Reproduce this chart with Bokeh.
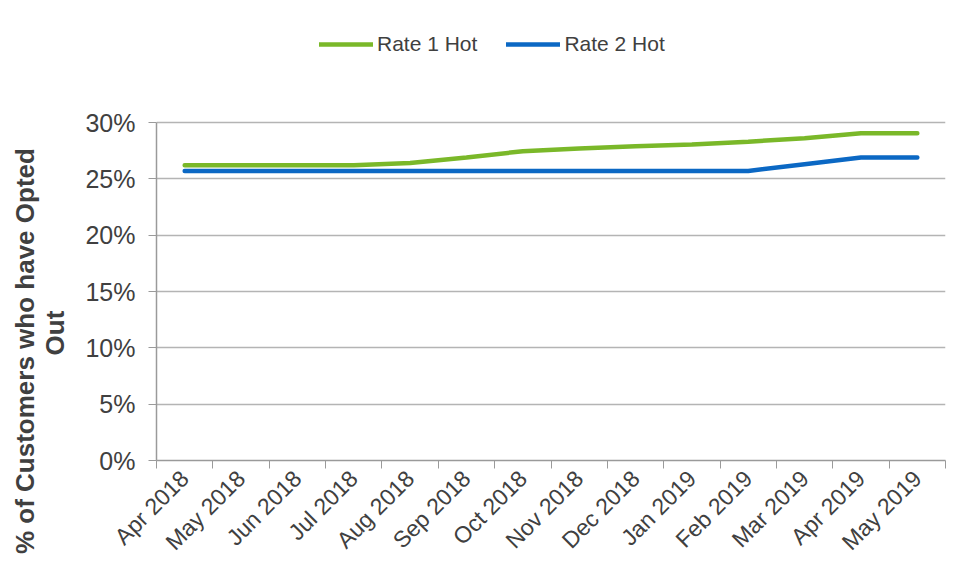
import math
from bokeh.plotting import figure
from bokeh.models import FixedTicker, Range1d, Legend, LegendItem
from bokeh.embed import file_html
from bokeh.resources import INLINE

months = ["Apr 2018", "May 2018", "Jun 2018", "Jul 2018", "Aug 2018", "Sep 2018",
          "Oct 2018", "Nov 2018", "Dec 2018", "Jan 2019", "Feb 2019", "Mar 2019",
          "Apr 2019", "May 2019"]
rate1_hot = [26.2, 26.2, 26.2, 26.2, 26.4, 26.9, 27.45, 27.7, 27.9, 28.05, 28.3, 28.6, 29.05, 29.05]
rate2_hot = [25.7, 25.7, 25.7, 25.7, 25.7, 25.7, 25.7, 25.7, 25.7, 25.7, 25.7, 26.3, 26.9, 26.9]
y_ticks = [0, 5, 10, 15, 20, 25, 30]
y_title_lines = ["% of Customers who have Opted", "Out"]

FONT = "Liberation Sans"
NBSP = "\u00a0"
x_pos = [i + 0.5 for i in range(len(months))]

# plot area: 30% line at 338 px above the x axis; the frame is extended upwards
# (above 30%) so that the legend can sit inside it at the top of the chart
TOP_BORDER = 10
AXIS_PX = 338
FRAME_PX = 576 - 116 - TOP_BORDER
y_max = max(y_ticks) * FRAME_PX / AXIS_PX

p = figure(width=955, height=576, output_backend="svg", toolbar_location=None,
           x_range=Range1d(0, len(months)), y_range=Range1d(0, y_max),
           min_border_left=156, min_border_right=10, min_border_top=TOP_BORDER,
           min_border_bottom=116)
p.outline_line_color = None
p.background_fill_color = "white"
p.border_fill_color = "white"

r1 = p.line(x_pos, rate1_hot, line_color="#7AB829", line_width=4.5, line_cap="round")
r2 = p.line(x_pos, rate2_hot, line_color="#0B68C4", line_width=4.5, line_cap="round")

# x axis
xa = p.xaxis[0]
xa.ticker = FixedTicker(ticks=x_pos, minor_ticks=list(range(len(months) + 1)))
xa.major_label_overrides = {x: m for x, m in zip(x_pos, months)}
xa.major_tick_out = 0
xa.major_tick_in = 0
xa.minor_tick_out = 8
xa.minor_tick_in = 0
xa.minor_tick_line_color = "#9a9a9a"
xa.axis_line_color = "#9a9a9a"
xa.axis_line_width = 1.5
xa.major_label_orientation = math.pi / 4
xa.major_label_text_font = FONT
xa.major_label_text_font_size = "23px"
xa.major_label_text_color = "#404040"
xa.major_label_standoff = 6

# y axis
ya = p.yaxis[0]
ya.ticker = FixedTicker(ticks=y_ticks)
ya.bounds = (min(y_ticks), max(y_ticks))
ya.major_label_overrides = {t: f"{t}%" for t in y_ticks}
ya.minor_tick_out = 0
ya.minor_tick_in = 0
ya.major_tick_out = 8
ya.major_tick_in = 0
ya.major_tick_line_color = "#9a9a9a"
ya.axis_line_color = "#9a9a9a"
ya.axis_line_width = 1.5
ya.major_label_text_font = FONT
ya.major_label_text_font_size = "25px"
ya.major_label_text_color = "#404040"
ya.major_label_standoff = 13
# trailing no-break spaces move the visible title lower, as in the reference
ya.axis_label = (y_title_lines[0] + NBSP * 32) + "\n" + (y_title_lines[1] + NBSP * 27)
ya.axis_label_text_font = FONT
ya.axis_label_text_font_size = "26px"
ya.axis_label_text_font_style = "bold"
ya.axis_label_text_color = "#404040"
ya.axis_label_text_line_height = 1.0
ya.axis_label_standoff = 12

p.xgrid.grid_line_color = None
p.ygrid.grid_line_color = "#b4b4b4"
p.ygrid.grid_line_width = 1.5

legend = Legend(items=[LegendItem(label="Rate 1 Hot", renderers=[r1]),
                       LegendItem(label="Rate 2 Hot", renderers=[r2])],
                orientation="horizontal", location=(163, 404),
                label_text_font=FONT, label_text_font_size="21px",
                label_text_color="#404040", glyph_width=54, glyph_height=20,
                label_standoff=4, spacing=29, padding=10,
                border_line_color=None, background_fill_alpha=0)
p.add_layout(legend, "center")

open("out.html", "w").write(file_html(p, INLINE))
